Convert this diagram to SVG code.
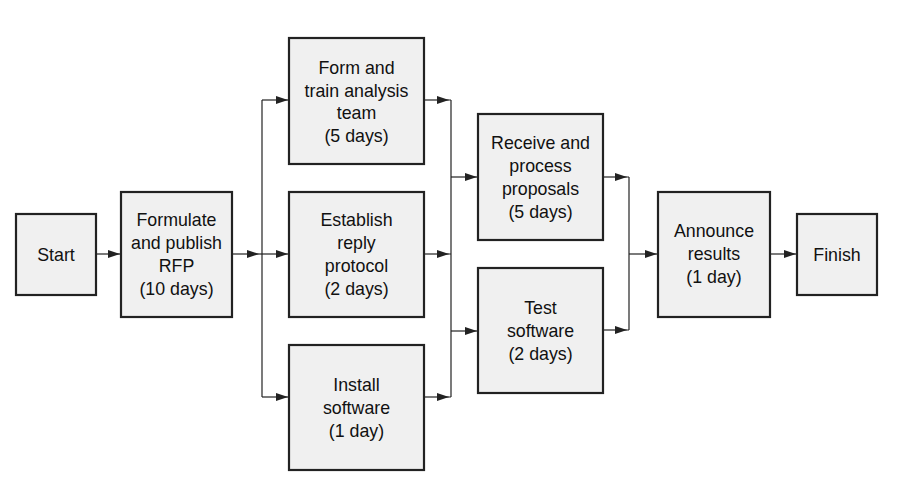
<svg xmlns="http://www.w3.org/2000/svg" width="907" height="480" viewBox="0 0 907 480">
<style>
.box{fill:#f0f0f0;stroke:#222;stroke-width:2.2}
.t{font-family:"Liberation Sans",Arial,sans-serif;font-size:17.8px;fill:#111;text-anchor:middle}
.c{fill:none;stroke:#222;stroke-width:1.2}
</style>
<defs>
<marker id="ah" markerUnits="userSpaceOnUse" markerWidth="13" markerHeight="9" refX="12" refY="4" orient="auto">
<path d="M0,0 L12,4 L0,8 z" fill="#222"/>
</marker>
</defs>
<rect width="907" height="480" fill="#fff"/>
<g id="connectors">
<path class="c" d="M96,254 H120" marker-end="url(#ah)"/>
<path class="c" d="M232,254 H259" marker-end="url(#ah)"/>
<path class="c" d="M259,254 H262"/>
<path class="c" d="M262,100 V397"/>
<path class="c" d="M262,100 H288" marker-end="url(#ah)"/>
<path class="c" d="M262,254 H288" marker-end="url(#ah)"/>
<path class="c" d="M262,397 H288" marker-end="url(#ah)"/>
<path class="c" d="M424,100 H449" marker-end="url(#ah)"/>
<path class="c" d="M424,254 H449" marker-end="url(#ah)"/>
<path class="c" d="M424,397 H449" marker-end="url(#ah)"/>
<path class="c" d="M449,100 H451 M449,254 H451 M449,397 H451"/>
<path class="c" d="M451,100 V397"/>
<path class="c" d="M451,177 H477" marker-end="url(#ah)"/>
<path class="c" d="M451,331 H477" marker-end="url(#ah)"/>
<path class="c" d="M603,177 H627" marker-end="url(#ah)"/>
<path class="c" d="M603,330 H627" marker-end="url(#ah)"/>
<path class="c" d="M627,177 H629 M627,330 H629"/>
<path class="c" d="M629,177 V330"/>
<path class="c" d="M629,254 H657" marker-end="url(#ah)"/>
<path class="c" d="M770,254 H796" marker-end="url(#ah)"/>
</g>
<g id="start">
<rect class="box" x="16" y="214" width="80" height="81"/>
<text class="t" x="56" y="261">Start</text>
</g>
<g id="formulate">
<rect class="box" x="121" y="192" width="111" height="125"/>
<text class="t" x="176.5" y="226">Formulate</text>
<text class="t" x="176.5" y="249">and publish</text>
<text class="t" x="176.5" y="272">RFP</text>
<text class="t" x="176.5" y="295">(10 days)</text>
</g>
<g id="form-team">
<rect class="box" x="289" y="38" width="135" height="126"/>
<text class="t" x="356.5" y="74">Form and</text>
<text class="t" x="356.5" y="96.5">train analysis</text>
<text class="t" x="356.5" y="119">team</text>
<text class="t" x="356.5" y="141.5">(5 days)</text>
</g>
<g id="establish">
<rect class="box" x="289" y="192" width="135" height="125"/>
<text class="t" x="356.5" y="226">Establish</text>
<text class="t" x="356.5" y="249">reply</text>
<text class="t" x="356.5" y="272">protocol</text>
<text class="t" x="356.5" y="295">(2 days)</text>
</g>
<g id="install">
<rect class="box" x="289" y="345" width="135" height="125"/>
<text class="t" x="356.5" y="391">Install</text>
<text class="t" x="356.5" y="414">software</text>
<text class="t" x="356.5" y="437">(1 day)</text>
</g>
<g id="receive">
<rect class="box" x="478" y="114" width="125" height="126"/>
<text class="t" x="540.5" y="149">Receive and</text>
<text class="t" x="540.5" y="172">process</text>
<text class="t" x="540.5" y="195">proposals</text>
<text class="t" x="540.5" y="218">(5 days)</text>
</g>
<g id="test">
<rect class="box" x="478" y="268" width="125" height="125"/>
<text class="t" x="540.5" y="314">Test</text>
<text class="t" x="540.5" y="337">software</text>
<text class="t" x="540.5" y="360">(2 days)</text>
</g>
<g id="announce">
<rect class="box" x="658" y="192" width="112" height="125"/>
<text class="t" x="714" y="237">Announce</text>
<text class="t" x="714" y="260">results</text>
<text class="t" x="714" y="283">(1 day)</text>
</g>
<g id="finish">
<rect class="box" x="797" y="214" width="80" height="81"/>
<text class="t" x="837" y="261">Finish</text>
</g>
</svg>
